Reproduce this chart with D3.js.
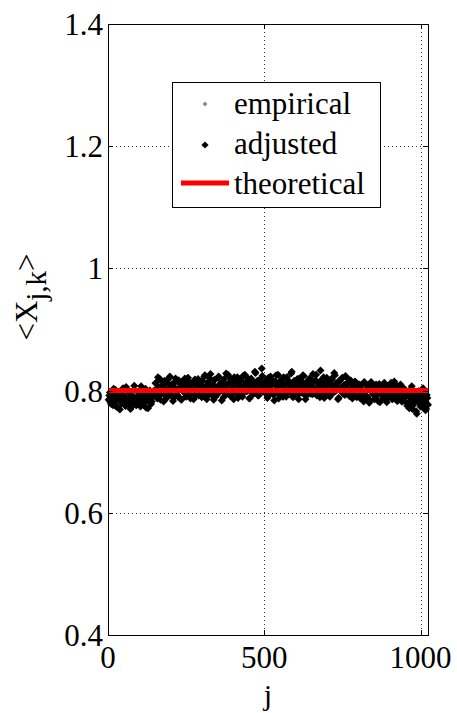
<!DOCTYPE html>
<html><head><meta charset="utf-8">
<script src="https://cdn.jsdelivr.net/npm/d3@7"></script>
<style>
body{margin:0;background:#fff}
svg text{font-family:"Liberation Serif","Tinos","Times New Roman","Times","Nimbus Roman","Nimbus Roman No9 L","FreeSerif","Noto Serif","DejaVu Serif",serif}
</style></head>
<body><svg id="c" width="457" height="713"></svg>
<script>
// ---- data ----
const xTicks = [0, 500, 1000];
const yTicks = [0.4, 0.6, 0.8, 1, 1.2, 1.4];
const yTickLabels = ["0.4", "0.6", "0.8", "1", "1.2", "1.4"];
const xDomain = [0, 1024];
const yDomain = [0.4, 1.4];
const legendLabels = ["empirical", "adjusted", "theoretical"];
// adjusted mean of X_{j,k}, in thousandths; listA at j = 4, 8, 12, ...; listB at j = 2, 6, 10, ...
const adjustedMilliA = [
792,781,796,776,789,801,784,772,795,786,779,804,790,775,783,798,787,770,793,781,808,785,777,791,799,774,786,794,780,803,789,771,784,797,782,790,800,
812,791,822,798,785,807,815,794,803,788,818,801,796,810,783,806,820,799,790,812,805,786,816,797,808,793,821,802,787,811,799,814,792,806,819,795,803,789,
808,823,797,786,814,801,827,793,810,817,790,805,821,798,812,784,806,819,795,809,826,800,791,815,804,822,796,811,788,818,807,793,824,802,813,799,820,787,808,816,795,810,829,801,792,817,806,836,798,812,
805,818,791,809,823,797,812,784,815,803,826,794,808,819,790,811,800,822,796,813,805,831,789,816,802,810,793,820,807,798,825,811,786,814,803,819,795,808,827,800,817,792,812,805,833,797,815,788,809,821,801,813,794,818,806,829,799,811,786,816,804,820,795,809,824,800,812,791,817,803,808,796,814,789,806,
810,792,803,785,814,798,789,807,780,801,812,794,786,808,799,783,811,796,804,788,813,797,781,806,792,809,787,800,815,791,784,803,797,810,782,799,793,
801,780,792,771,788,807,776,795,783,762,790,798,774,786,804,779,768,793,777
];
const adjustedMilliB = [
785,797,778,791,803,782,774,794,788,769,799,783,792,777,806,786,780,795,773,789,801,784,776,798,790,781,807,779,793,787,772,796,783,800,778,791,795,
798,813,787,805,819,794,809,782,816,801,791,811,823,796,806,788,814,800,793,817,804,785,810,798,820,790,807,815,795,803,812,786,818,799,808,792,814,802,
816,799,825,806,791,812,820,797,808,785,818,803,794,823,810,800,815,789,807,828,798,812,793,819,805,786,814,801,822,796,809,817,790,806,826,799,813,803,788,820,808,795,831,804,816,792,811,800,824,807,
797,814,788,821,806,799,817,793,810,825,801,787,815,808,795,822,804,790,818,811,798,828,806,792,813,802,819,786,809,816,796,824,805,791,812,800,820,808,794,815,803,826,798,811,789,817,806,822,795,809,801,814,790,819,807,797,825,812,803,788,816,799,821,808,793,811,804,818,796,813,787,806,815,800,810,
801,788,809,795,782,812,799,790,806,784,814,797,803,787,810,793,800,781,808,796,789,811,785,803,798,792,813,786,805,794,809,783,801,797,788,806,791,
789,798,775,792,781,803,770,787,796,766,784,799,778,791,773,795,782,770,788
];
// empirical mean, in thousandths, every 16th j
const empiricalStep = 16;
const empiricalMilli = [
790,783,797,779,788,794,786,781,799,808,795,812,801,790,815,803,798,811,792,806,
819,800,809,795,813,802,822,797,808,791,816,805,799,812,788,818,803,810,796,821,
804,793,814,800,807,786,811,798,795,805,788,809,797,783,801,792,787,798,779,790,
772,786,794,780
];
const theoreticalJ = [0, 1024];
const theoreticalValue = [0.8, 0.8];

// ---- layout ----
const L = 108, R = 428, T = 24, B = 635;
const svg = d3.select("#c");
const x = d3.scaleLinear().domain(xDomain).range([L, R]);
const y = d3.scaleLinear().domain(yDomain).range([B, T]);

const adjusted = adjustedMilliA.map((v, i) => ({ j: (i + 1) * 4, v: v / 1000 }))
  .concat(adjustedMilliB.map((v, i) => ({ j: i * 4 + 2, v: v / 1000 })));
const empirical = empiricalMilli.map((v, i) => ({ j: (i + 1) * empiricalStep, v: v / 1000 }));

// grid
const grid = svg.append("g").attr("stroke", "#333").attr("stroke-width", 1).attr("stroke-dasharray", "1,3");
grid.selectAll(".gx").data(xTicks.filter(t => t > 0)).enter().append("line")
  .attr("x1", d => Math.round(x(d)) + 0.5).attr("x2", d => Math.round(x(d)) + 0.5)
  .attr("y1", T).attr("y2", B);
grid.selectAll(".gy").data(yTicks.filter(t => t > 0.4 && t < 1.4)).enter().append("line")
  .attr("y1", d => Math.round(y(d)) + 0.5).attr("y2", d => Math.round(y(d)) + 0.5)
  .attr("x1", L).attr("x2", R);

const diamond = r => `M0,${-r}L${r},0L0,${r}L${-r},0Z`;

// empirical
svg.append("g").selectAll("path").data(empirical).enter().append("path")
  .attr("d", diamond(2.5)).attr("fill", "#888")
  .attr("transform", d => `translate(${x(d.j)},${y(d.v)})`);
// adjusted
svg.append("g").selectAll("path").data(adjusted).enter().append("path")
  .attr("d", diamond(4)).attr("fill", "#000")
  .attr("transform", d => `translate(${x(d.j)},${y(d.v)})`);
// theoretical
svg.append("path").datum(theoreticalJ.map((j, i) => [j, theoreticalValue[i]]))
  .attr("fill", "none").attr("stroke", "#ff0000").attr("stroke-width", 5)
  .attr("d", d3.line().x(d => x(d[0])).y(d => y(d[1])));

// box
svg.append("rect").attr("x", L + 0.5).attr("y", T + 0.5).attr("width", R - L).attr("height", B - T)
  .attr("fill", "none").attr("stroke", "#000").attr("stroke-width", 1);

// ticks (inward, all sides)
const tk = svg.append("g").attr("stroke", "#000").attr("stroke-width", 1);
xTicks.forEach(t => {
  const px = Math.round(x(t)) + 0.5;
  tk.append("line").attr("x1", px).attr("x2", px).attr("y1", B).attr("y2", B - 5);
  tk.append("line").attr("x1", px).attr("x2", px).attr("y1", T).attr("y2", T + 5);
});
yTicks.forEach(t => {
  const py = Math.round(y(t)) + 0.5;
  tk.append("line").attr("y1", py).attr("y2", py).attr("x1", L).attr("x2", L + 5);
  tk.append("line").attr("y1", py).attr("y2", py).attr("x1", R).attr("x2", R - 5);
});

// tick labels
svg.append("g").selectAll("text").data(xTicks).enter().append("text")
  .attr("x", d => x(d)).attr("y", B + 33).attr("text-anchor", "middle")
  .attr("font-size", 31).text(d => d);
svg.append("g").selectAll("text").data(yTicks).enter().append("text")
  .attr("x", L - 5).attr("y", d => y(d) + 11).attr("text-anchor", "end")
  .attr("font-size", 31).text((d, i) => yTickLabels[i]);

// axis labels
svg.append("text").attr("x", (L + R) / 2).attr("y", 705).attr("text-anchor", "middle")
  .attr("font-size", 30).text("j");
const yl = svg.append("text").attr("transform", "translate(37,297) rotate(-90)")
  .attr("text-anchor", "middle").attr("font-size", 31);
yl.append("tspan").text("<X");
yl.append("tspan").attr("dy", 9).attr("font-size", 29).text("j,k");
yl.append("tspan").attr("dy", -9).text(">");

// legend
const lg = svg.append("g");
lg.append("rect").attr("x", 172.5).attr("y", 82.5).attr("width", 208).attr("height", 125)
  .attr("fill", "#fff").attr("stroke", "#000").attr("stroke-width", 1);
lg.append("path").attr("d", diamond(2.5)).attr("fill", "#888").attr("transform", "translate(205,104)");
lg.append("path").attr("d", diamond(3.6)).attr("fill", "#000").attr("transform", "translate(205,145)");
lg.append("line").attr("x1", 181).attr("x2", 229).attr("y1", 183).attr("y2", 183)
  .attr("stroke", "#ff0000").attr("stroke-width", 5);
[114, 154, 194].forEach((by, i) => {
  lg.append("text").attr("x", 234).attr("y", by).attr("font-size", 31)
    .text(legendLabels[i]);
});
</script>
</body></html>
